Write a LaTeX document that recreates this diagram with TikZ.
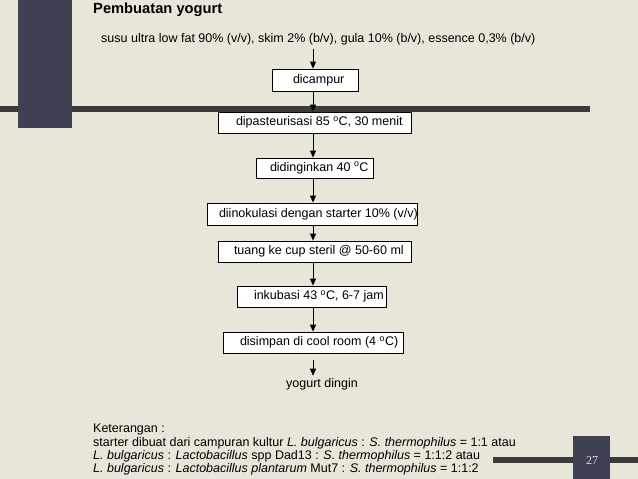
\documentclass[tikz,border=0pt]{standalone}
\usepackage{fontspec}
\setmainfont{Liberation Sans}
\newfontfamily\pagefont{Liberation Serif}
\usetikzlibrary{arrows.meta,calc}
\definecolor{bg}{HTML}{E8E6D8}
\definecolor{slate}{HTML}{3D4152}
\definecolor{barc}{HTML}{3B3B3B}
\newcommand{\bxt}[3]{\makebox[#1][l]{\hspace*{#2}#3}}
\newcommand{\dg}{\textsuperscript{o}}
\begin{document}
\begin{tikzpicture}[x=1pt,y=-1pt,
  stepbox/.style={draw=black,line width=0.8pt,fill=white,inner sep=0pt,font=\fontsize{12.5}{14}\selectfont},
  arr/.style={line width=0.9pt,-{Triangle[length=7pt,width=6pt]}},
  plain/.style={inner sep=0pt,font=\fontsize{12.5}{14}\selectfont},
  bar/.style={fill=barc},
  deco/.style={fill=slate}]
\fill[bg] (0,0) rectangle (638,479);
\useasboundingbox (0,0) rectangle (638,479);
% decorative bars
\fill[bar] (0,106) rectangle (590,112);
\fill[deco] (18,0) rectangle (72,128);
\fill[bar] (493,457) rectangle (638,463);
\fill[deco] (573,436) rectangle (610,479);
\node[inner sep=0pt,text=white!85!black,font=\pagefont\fontsize{12}{14}\selectfont] (pg) at (592,461) {27};
% title and source
\node[anchor=base west,inner sep=0pt,font=\bfseries\fontsize{14.7}{16}\selectfont] (title) at (93,13) {Pembuatan yogurt};
\node[plain,anchor=base west] (src) at (101,42) {susu ultra low fat 90\% (v/v), skim 2\% (b/v), gula 10\% (b/v), essence 0,3\% (b/v)};
% boxes
\node[stepbox,minimum height=22pt] (b1) at (315,80) {\bxt{86pt}{21pt}{dicampur}};
\node[stepbox,minimum height=21pt] (b2) at (314.5,122.5) {\bxt{193pt}{18pt}{dipasteurisasi 85 \dg C, 30 menit}};
\node[stepbox,minimum height=20pt] (b3) at (314.5,168) {\bxt{117pt}{14pt}{didinginkan 40 \dg C}};
\node[stepbox,minimum height=22pt] (b4) at (312,214) {\bxt{210pt}{12pt}{diinokulasi dengan starter 10\% (v/v)}};
\node[stepbox,minimum height=21pt] (b5) at (314.5,251.5) {\bxt{193pt}{16pt}{tuang ke cup steril @ 50-60 ml}};
\node[stepbox,minimum height=21pt] (b6) at (311.5,296.5) {\bxt{149pt}{17pt}{inkubasi 43 \dg C, 6-7 jam}};
\node[stepbox,minimum height=21pt] (b7) at (313,342.5) {\bxt{180pt}{17pt}{disimpan di cool room (4 \dg C)}};
\node[plain,anchor=base] (yd) at (322,387) {yogurt dingin};
% arrows
\coordinate (ax) at (313,0);
\draw[arr] (ax |- src.south) ++(0,4) -- (ax |- b1.north);
\draw[arr] (ax |- b1.south) -- (ax |- b2.north);
\draw[arr] (ax |- b2.south) -- (ax |- b3.north);
\draw[arr] (ax |- b3.south) -- (ax |- b4.north);
\draw[arr] (ax |- b4.south) -- (ax |- b5.north);
\draw[arr] (ax |- b5.south) -- (ax |- b6.north);
\draw[arr] (ax |- b6.south) -- (ax |- b7.north);
\draw[arr] ($(ax |- b7.south)+(0,7)$) -- ($(ax |- yd.north)+(0,-2)$);
% notes
\node[plain,anchor=north west,align=left,font=\fontsize{12.5}{13.2}\selectfont] (ket) at (93,424) {Keterangan :\\
starter dibuat dari campuran kultur \textit{L. bulgaricus} : \textit{S. thermophilus} = 1:1 atau\\
\textit{L. bulgaricus} : \textit{Lactobacillus} spp Dad13 : \textit{S. thermophilus} = 1:1:2 atau\\
\textit{L. bulgaricus} : \textit{Lactobacillus plantarum} Mut7 : \textit{S. thermophilus} = 1:1:2};
\end{tikzpicture}
\end{document}
